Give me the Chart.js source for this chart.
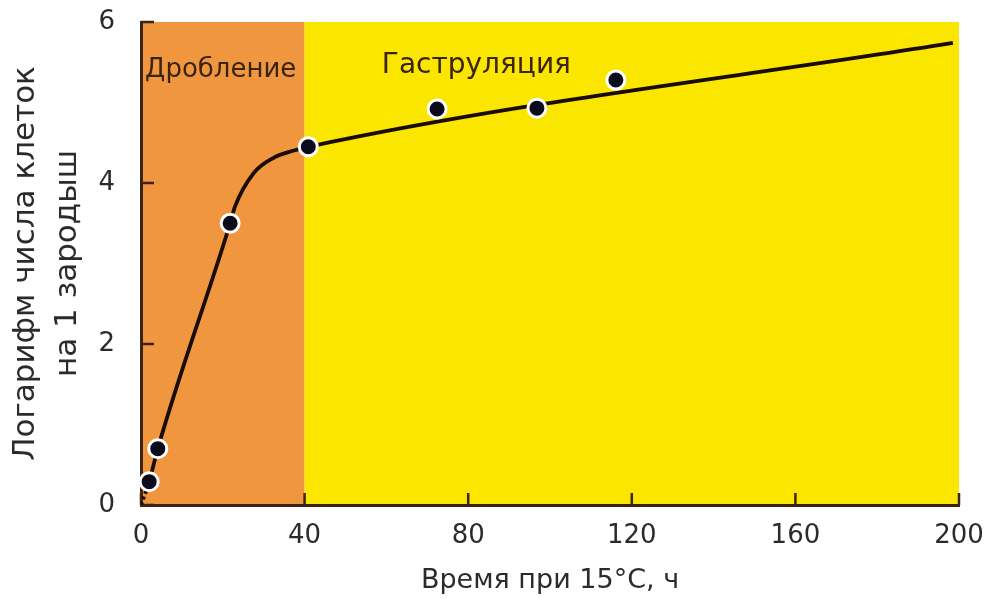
<!DOCTYPE html>
<html>
<head>
<meta charset="utf-8">
<script src="https://cdn.jsdelivr.net/npm/chart.js@4.4.1/dist/chart.umd.min.js"></script>
<style>
  html, body { margin: 0; padding: 0; background: #ffffff; }
  #wrap { width: 992px; height: 599px; position: relative; }
</style>
</head>
<body>
<div id="wrap"><canvas id="c"></canvas></div>
<script>
// ---- data ----
const curveHours = [0, 2.0, 4.1, 21.8, 23.0, 27.5, 32.3, 37.2, 40.9, 198.5];
const curveLog   = [0, 0.29, 0.70, 3.50, 3.71, 4.12, 4.31, 4.40, 4.45, 5.74];

const sampleHours = [2.0, 4.1, 21.8, 40.9, 72.4, 96.8, 116.1];
const sampleLog   = [0.29, 0.70, 3.50, 4.45, 4.92, 4.93, 5.28];

const xTicks = [0, 40, 80, 120, 160, 200];
const yTicks = [0, 2, 4, 6];

const phaseNames  = ['Дробление', 'Гаструляция'];
const phaseStart  = [0, 40];
const phaseEnd    = [40, 200];
const phaseLabelX = [1, 82];      // hours (label anchor)
const phaseLabelY = [5.32, 5.37]; // log value (label baseline)

const xTitle = 'Время при 15°C, ч';
const yTitle = ['Логарифм числа клеток', 'на 1 зародыш'];

// ---- styles ----
const phaseColors = ['#F0963F', '#FBE600'];
const axisColor = '#3c2414';
const textColor = '#2b2b2b';
const FONT = '"DejaVu Sans", "Liberation Sans", Arial, sans-serif';

const phasePlugin = {
  id: 'phases',
  beforeDraw(chart) {
    const {ctx, chartArea: a, scales: {x}} = chart;
    ctx.save();
    phaseStart.forEach((s, i) => {
      const x0 = x.getPixelForValue(s), x1 = x.getPixelForValue(phaseEnd[i]);
      ctx.fillStyle = phaseColors[i];
      ctx.fillRect(x0, a.top, x1 - x0, a.bottom - a.top);
    });
    ctx.restore();
  },
  beforeDatasetsDraw(chart) {
    const {ctx, chartArea: a, scales: {x, y}} = chart;
    ctx.save();
    // inner tick marks
    ctx.strokeStyle = axisColor;
    ctx.lineWidth = 2.5;
    ctx.beginPath();
    xTicks.forEach(v => {
      const px = x.getPixelForValue(v);
      ctx.moveTo(px, a.bottom);
      ctx.lineTo(px, a.bottom - 12);
    });
    yTicks.forEach(v => {
      const py = y.getPixelForValue(v);
      ctx.moveTo(a.left, py);
      ctx.lineTo(a.left + 13, py);
    });
    ctx.stroke();
    // phase labels
    ctx.fillStyle = '#3a2410';
    ctx.textBaseline = 'alphabetic';
    ctx.font = '26px ' + FONT;
    ctx.textAlign = 'left';
    ctx.fillText(phaseNames[0], x.getPixelForValue(phaseLabelX[0]), y.getPixelForValue(phaseLabelY[0]));
    ctx.font = '28px ' + FONT;
    ctx.textAlign = 'center';
    ctx.fillText(phaseNames[1], x.getPixelForValue(phaseLabelX[1]), y.getPixelForValue(phaseLabelY[1]));
    ctx.restore();
  }
};

new Chart(document.getElementById('c'), {
  type: 'scatter',
  data: {
    datasets: [
      {
        label: 'curve',
        data: curveHours.map((h, i) => ({x: h, y: curveLog[i]})),
        showLine: true,
        borderColor: '#1a0c02',
        borderWidth: 3.8,
        pointRadius: 0,
        cubicInterpolationMode: 'monotone',
        segment: { borderDash: ctx => ctx.p0DataIndex === 0 ? [3, 3] : undefined },
        order: 2
      },
      {
        label: 'samples',
        data: sampleHours.map((h, i) => ({x: h, y: sampleLog[i]})),
        showLine: false,
        pointRadius: 9,
        pointBackgroundColor: '#0b0b1c',
        pointBorderColor: '#ffffff',
        pointBorderWidth: 3,
        clip: false,
        order: 1
      }
    ]
  },
  options: {
    responsive: true,
    maintainAspectRatio: false,
    animation: false,
    events: [],
    layout: { padding: { top: 22, right: 33, bottom: 0, left: 0 } },
    plugins: { legend: { display: false }, tooltip: { enabled: false } },
    scales: {
      x: {
        type: 'linear',
        min: 0, max: 200,
        afterBuildTicks: s => { s.ticks = xTicks.map(v => ({value: v})); },
        afterFit: s => { s.height = 94; s.paddingLeft = 0; s.paddingRight = 0; },
        grid: { display: false },
        border: { display: true, color: axisColor, width: 3 },
        ticks: { color: textColor, font: { family: FONT, size: 26 }, padding: 8, maxRotation: 0 },
        title: { display: true, text: xTitle, color: textColor, font: { family: FONT, size: 27 }, padding: { top: 0, bottom: 2 } }
      },
      y: {
        type: 'linear',
        min: 0, max: 6,
        afterBuildTicks: s => { s.ticks = yTicks.map(v => ({value: v})); },
        afterFit: s => { s.width = 141; s.paddingTop = 0; s.paddingBottom = 0; },
        grid: { display: false },
        border: { display: true, color: axisColor, width: 3 },
        ticks: { color: textColor, font: { family: FONT, size: 26 }, padding: 18 },
        title: { display: true, text: yTitle, color: textColor, font: { family: FONT, size: 31, lineHeight: 1.35 }, padding: { top: 5, bottom: 0 } }
      }
    }
  },
  plugins: [phasePlugin]
});
</script>
</body>
</html>
